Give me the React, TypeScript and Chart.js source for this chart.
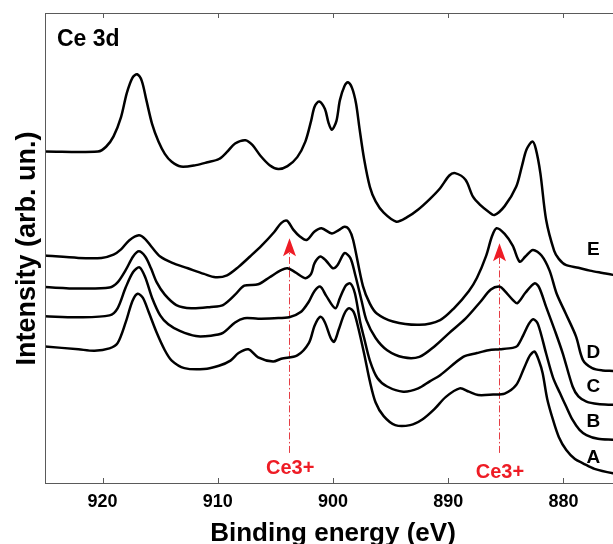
import React, { useEffect, useRef } from "react";
import { Chart, registerables } from "chart.js";
Chart.register(...registerables);

// Binding energy (eV), intensity (arb. un.) pairs
const seriesA = [[925.0,29.2],[922.1,28.6],[920.7,28.3],[919.4,28.8],[918.7,29.9],[918.0,34.3],[917.4,38.9],[916.95,40.4],[916.5,39.5],[916.0,36.5],[915.3,32.1],[914.6,28.4],[914.0,26.2],[912.9,24.6],[911.2,24.4],[909.9,25.1],[908.9,26.2],[908.2,27.8],[907.35,28.6],[906.5,26.9],[905.2,26.0],[904.5,26.6],[903.1,27.3],[902.1,29.9],[901.6,33.6],[901.1,35.5],[900.7,34.3],[900.2,31.0],[899.9,30.2],[899.5,32.8],[899.0,36.2],[898.6,37.3],[898.2,36.5],[897.85,33.6],[897.3,27.7],[896.8,21.8],[896.3,17.3],[895.6,14.4],[894.6,12.5],[893.3,12.5],[892.25,13.7],[891.2,15.9],[890.2,18.5],[889.0,20.3],[888.2,19.6],[887.4,18.9],[886.1,19.0],[885.1,19.2],[884.1,21.0],[883.4,24.7],[882.9,27.3],[882.5,28.1],[882.1,26.0],[881.8,23.5],[881.4,18.0],[880.9,13.6],[880.4,10.0],[879.75,7.2],[879.0,5.3],[878.3,4.4],[877.3,3.2],[875.7,2.3],[875.0,2.2]];
const seriesB = [[925.0,35.6],[922.1,35.4],[919.4,35.8],[918.7,37.3],[918.0,41.7],[917.35,45.0],[916.8,46.0],[916.3,43.9],[915.7,39.5],[915.0,35.8],[914.3,33.9],[913.3,32.5],[911.9,31.4],[910.6,31.5],[909.55,32.1],[908.5,34.3],[907.7,35.2],[906.5,35.1],[905.1,35.2],[903.8,35.4],[902.8,36.5],[902.1,38.7],[901.6,41.0],[901.1,41.9],[900.6,40.0],[899.8,37.3],[899.4,39.5],[898.9,42.1],[898.5,42.6],[898.1,40.5],[897.65,34.5],[897.3,31.0],[896.8,26.2],[896.15,22.5],[895.3,20.7],[893.9,19.6],[892.6,20.3],[891.6,21.8],[890.7,23.1],[888.7,27.0],[887.5,27.8],[886.5,28.4],[885.5,28.6],[884.4,28.9],[884.0,29.3],[883.5,31.5],[883.0,34.0],[882.6,35.0],[882.2,33.9],[881.5,27.7],[880.9,22.6],[880.3,19.3],[879.75,16.4],[879.2,13.6],[878.6,11.5],[878.0,10.4],[877.0,9.6],[875.7,9.4],[875.0,9.3]];
const seriesC = [[925.0,41.8],[922.1,41.5],[919.4,41.7],[918.7,42.8],[918.0,45.4],[917.35,48.3],[916.85,49.4],[916.3,48.3],[915.8,45.8],[915.3,42.8],[914.6,40.2],[913.6,38.0],[912.3,37.3],[910.6,37.6],[909.55,38.0],[908.5,40.2],[907.7,42.1],[906.5,42.4],[905.5,43.9],[904.5,45.4],[903.95,45.8],[903.3,45.0],[902.4,43.7],[901.9,44.6],[901.6,46.9],[901.1,48.3],[900.6,47.4],[900.0,45.8],[899.6,46.5],[899.0,49.0],[898.5,48.0],[898.1,44.7],[897.5,38.7],[897.1,34.8],[896.3,31.0],[895.3,28.4],[893.9,26.9],[892.5,27.0],[891.2,29.2],[889.9,32.1],[888.5,35.1],[887.2,38.7],[886.3,41.3],[885.5,41.9],[885.1,41.0],[884.4,39.1],[884.0,38.4],[883.3,40.6],[882.5,42.6],[882.1,41.7],[881.5,37.6],[880.7,32.3],[880.05,27.7],[879.2,20.7],[878.7,18.6],[878.0,17.5],[877.0,17.0],[875.7,16.8],[875.0,16.7]];
const seriesD = [[925.0,48.5],[922.1,48.0],[920.1,48.0],[919.05,48.7],[918.4,49.8],[917.7,51.7],[916.85,52.8],[916.3,52.0],[915.7,50.2],[915.0,48.3],[914.0,47.0],[912.6,45.8],[911.2,44.6],[910.2,43.9],[909.2,44.3],[908.2,46.1],[907.2,48.3],[906.2,50.6],[905.1,53.5],[904.5,55.4],[904.0,55.9],[903.45,54.0],[902.9,52.6],[902.3,51.8],[901.6,53.6],[901.0,54.3],[900.1,53.2],[899.5,53.9],[899.0,54.6],[898.6,54.0],[898.25,51.8],[897.4,42.0],[896.8,38.3],[896.2,36.2],[894.8,34.5],[892.5,33.8],[890.7,34.8],[889.5,37.3],[888.2,41.0],[887.5,43.8],[886.7,48.5],[886.2,52.6],[885.8,54.3],[885.1,53.1],[884.4,50.6],[883.8,47.2],[883.3,48.3],[882.65,49.7],[881.9,48.5],[881.2,45.3],[880.6,40.5],[879.8,36.2],[878.9,31.3],[878.3,26.3],[877.5,24.6],[876.6,24.1],[875.7,24.0],[875.0,23.9]];
const seriesE = [[925.0,70.6],[920.4,70.6],[919.7,71.6],[919.05,73.8],[918.4,77.9],[917.9,83.0],[917.4,86.3],[917.0,87.0],[916.6,85.6],[916.2,81.5],[915.7,76.4],[915.15,72.7],[914.6,70.1],[914.0,68.4],[913.2,67.4],[911.9,67.7],[910.9,68.3],[909.9,69.0],[909.2,70.5],[908.5,72.3],[907.6,73.0],[907.0,72.0],[906.3,69.7],[905.5,67.7],[904.75,66.9],[903.95,67.5],[903.1,69.4],[902.4,72.7],[901.9,77.1],[901.6,80.1],[901.2,81.2],[900.7,79.6],[900.4,76.8],[900.1,75.2],[899.7,77.1],[899.4,81.5],[899.0,84.5],[898.7,85.3],[898.35,84.1],[898.0,80.8],[897.7,75.5],[897.3,69.0],[896.8,63.1],[896.3,60.0],[895.6,57.6],[894.5,55.7],[893.6,56.6],[892.6,58.3],[891.6,60.5],[890.7,62.8],[889.9,65.5],[889.4,66.0],[888.5,64.6],[887.85,61.0],[887.2,59.2],[886.5,57.8],[886.0,57.1],[885.1,59.0],[884.1,63.1],[883.6,67.5],[883.2,71.0],[882.7,72.7],[882.4,71.2],[882.0,66.0],[881.5,56.1],[880.8,49.5],[880.4,47.8],[879.8,46.5],[878.7,45.9],[877.7,45.3],[876.6,44.8],[875.7,44.4],[875.0,44.3]];

const seriesNames = ["A", "B", "C", "D", "E"];
const seriesData = [seriesA, seriesB, seriesC, seriesD, seriesE];
// label anchor intensities (baseline) for A..E
const labelLevels = [4.4, 12.1, 19.5, 26.8, 48.6];
const labelEnergy = 877.4;

const xTicks = [920, 910, 900, 890, 880];
const ce3Energies = [903.8, 885.6];
const ce3Tips = [52.2, 51.1];
const ce3Base = 6.6;
const ce3TextLevels = [2.2, 1.3];

const FONT = '"Liberation Sans", Arial, Helvetica, sans-serif';

const overlay = {
  id: "overlay",
  beforeDatasetsDraw(chart: any) {
    const { ctx } = chart;
    const xs = chart.scales.x;
    const ys = chart.scales.y;
    ctx.save();
    ce3Energies.forEach((e, i) => {
      const x = Math.round(xs.getPixelForValue(e)) + 0.5;
      const yTip = ys.getPixelForValue(ce3Tips[i]);
      const yBot = ys.getPixelForValue(ce3Base);
      ctx.strokeStyle = "rgba(226,40,48,0.9)";
      ctx.lineWidth = 1;
      ctx.setLineDash([7, 2.5, 1.5, 2.5]);
      ctx.beginPath();
      ctx.moveTo(x, yBot);
      ctx.lineTo(x, yTip + 14);
      ctx.stroke();
      ctx.setLineDash([]);
      ctx.fillStyle = "#ee1c25";
      ctx.beginPath();
      ctx.moveTo(x, yTip);
      ctx.lineTo(x + 6.5, yTip + 18);
      ctx.lineTo(x, yTip + 14);
      ctx.lineTo(x - 6.5, yTip + 18);
      ctx.closePath();
      ctx.fill();
    });
    ctx.restore();
  },
  afterDraw(chart: any) {
    const { ctx, chartArea } = chart;
    const xs = chart.scales.x;
    const ys = chart.scales.y;
    const { left, right, top, bottom } = chartArea;
    ctx.save();
    // frame
    ctx.strokeStyle = "#5a5a5a";
    ctx.lineWidth = 1;
    ctx.strokeRect(left + 0.5, top + 0.5, right - left - 1, bottom - top - 1);
    // inside ticks top & bottom
    ctx.beginPath();
    xTicks.forEach((t) => {
      const x = Math.round(xs.getPixelForValue(t)) + 0.5;
      ctx.moveTo(x, bottom);
      ctx.lineTo(x, bottom - 6);
      ctx.moveTo(x, top);
      ctx.lineTo(x, top + 5);
    });
    ctx.stroke();
    // tick labels
    ctx.fillStyle = "#000";
    ctx.font = `bold 18px ${FONT}`;
    ctx.textAlign = "center";
    ctx.textBaseline = "alphabetic";
    xTicks.forEach((t) => {
      ctx.fillText(String(t), xs.getPixelForValue(t), bottom + 23);
    });
    // axis titles
    ctx.font = `bold 26px ${FONT}`;
    ctx.fillText("Binding energy (eV)", (left + right) / 2, 541);
    ctx.save();
    ctx.translate(35, (top + bottom) / 2);
    ctx.rotate(-Math.PI / 2);
    ctx.font = `bold 27px ${FONT}`;
    ctx.fillText("Intensity (arb. un.)", 0, 0);
    ctx.restore();
    // panel title
    ctx.textAlign = "left";
    ctx.font = `bold 23px ${FONT}`;
    ctx.fillText("Ce 3d", 57, 46);
    // curve labels
    ctx.textAlign = "center";
    ctx.font = `bold 19px ${FONT}`;
    seriesNames.forEach((n, i) => {
      ctx.fillText(n, xs.getPixelForValue(labelEnergy), ys.getPixelForValue(labelLevels[i]));
    });
    // Ce3+ labels
    ctx.fillStyle = "#ee1c25";
    ctx.font = `bold 20px ${FONT}`;
    ce3Energies.forEach((e, i) => {
      ctx.fillText("Ce3+", xs.getPixelForValue(e) + 1, ys.getPixelForValue(ce3TextLevels[i]));
    });
    ctx.restore();
  },
};

export default function App() {
  const ref = useRef<HTMLCanvasElement | null>(null);
  useEffect(() => {
    if (!ref.current) return;
    const chart = new Chart(ref.current, {
      type: "line",
      data: {
        datasets: seriesData.map((s, i) => ({
          label: seriesNames[i],
          data: s.map(([x, y]) => ({ x, y })),
          borderColor: "#000",
          borderWidth: 2.5,
          pointRadius: 0,
          tension: 0.3,
          fill: false,
        })),
      },
      options: {
        animation: false,
        responsive: false,
        maintainAspectRatio: false,
        layout: { padding: { left: 45, top: 13, right: 4, bottom: 60 } },
        plugins: { legend: { display: false }, tooltip: { enabled: false }, title: { display: false } },
        scales: {
          x: { type: "linear", reverse: true, min: 875, max: 925, display: false },
          y: { type: "linear", min: 0, max: 100, display: false },
        },
      },
      plugins: [overlay],
    });
    return () => chart.destroy();
  }, []);
  return (
    <div style={{ position: "fixed", left: 0, top: 0, width: 613, height: 544, overflow: "hidden", background: "#fff" }}>
      <canvas ref={ref} width={625} height={544} style={{ width: 625, height: 544, display: "block" }} />
    </div>
  );
}
